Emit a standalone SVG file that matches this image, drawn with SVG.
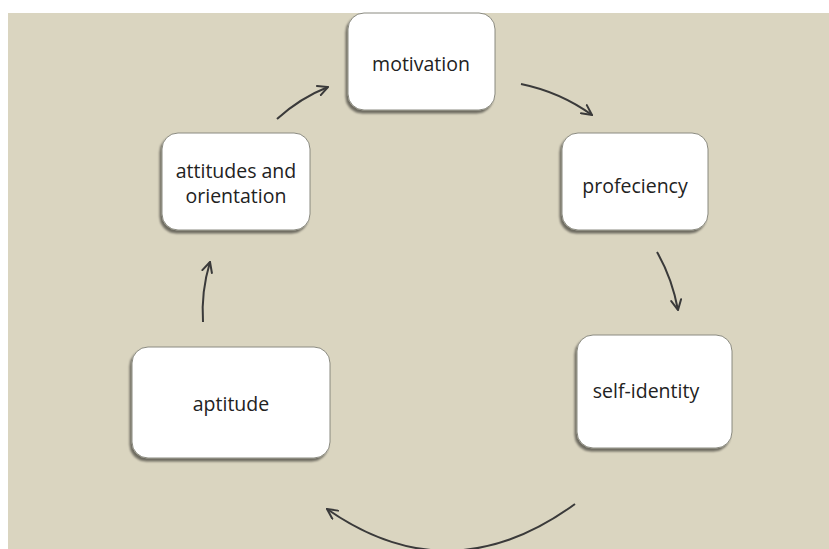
<svg xmlns="http://www.w3.org/2000/svg" width="829" height="549" viewBox="0 0 829 549">
<defs>
<marker id="ah" viewBox="0 0 12 12" refX="11" refY="6" markerWidth="12" markerHeight="12" markerUnits="userSpaceOnUse" orient="auto">
<path d="M1,1 L11,6 L1,11" fill="none" stroke="#3a3a3a" stroke-width="2" stroke-linecap="round"/>
</marker>
<filter id="sh" x="-10%" y="-10%" width="125%" height="125%">
<feGaussianBlur in="SourceAlpha" stdDeviation="1.2"/>
<feOffset dx="-2" dy="3" result="b"/>
<feComponentTransfer><feFuncA type="linear" slope="0.5"/></feComponentTransfer>
<feMerge><feMergeNode/><feMergeNode in="SourceGraphic"/></feMerge>
</filter>
</defs>
<style>
.box{fill:#ffffff;stroke:#8a8a80;stroke-width:1;filter:url(#sh)}
.lbl{font-family:"Open Sans","Noto Sans",sans-serif;font-size:19.5px;fill:#222;text-anchor:middle}
.arr{fill:none;stroke:#3a3a3a;stroke-width:2;marker-end:url(#ah)}
</style>
<rect x="0" y="0" width="829" height="549" fill="#ffffff"/>
<rect x="8" y="13" width="821" height="536" fill="#dad5c0"/>
<g id="connectors">
<path class="arr" d="M277,119 Q300,98 328,87"/>
<path class="arr" d="M521,84 Q560,92 592,115"/>
<path class="arr" d="M657,252 Q672,278 678,310"/>
<path class="arr" d="M575,504 Q450,595 327,509"/>
<path class="arr" d="M203,322 Q201,292 210,262"/>
</g>
<g id="node-motivation">
<rect class="box" x="348" y="13" width="147" height="97" rx="16"/>
<text class="lbl" x="421" y="71">motivation</text>
</g>
<g id="node-attitudes">
<rect class="box" x="162" y="133" width="148" height="97" rx="16"/>
<text class="lbl" x="236" y="178">attitudes and</text>
<text class="lbl" x="236" y="203">orientation</text>
</g>
<g id="node-profeciency">
<rect class="box" x="562" y="133" width="146" height="97" rx="16"/>
<text class="lbl" x="635" y="193">profeciency</text>
</g>
<g id="node-aptitude">
<rect class="box" x="132" y="347" width="198" height="111" rx="16"/>
<text class="lbl" x="231" y="411">aptitude</text>
</g>
<g id="node-self-identity">
<rect class="box" x="577" y="335" width="155" height="113" rx="16"/>
<text class="lbl" x="646" y="398">self-identity</text>
</g>
</svg>
